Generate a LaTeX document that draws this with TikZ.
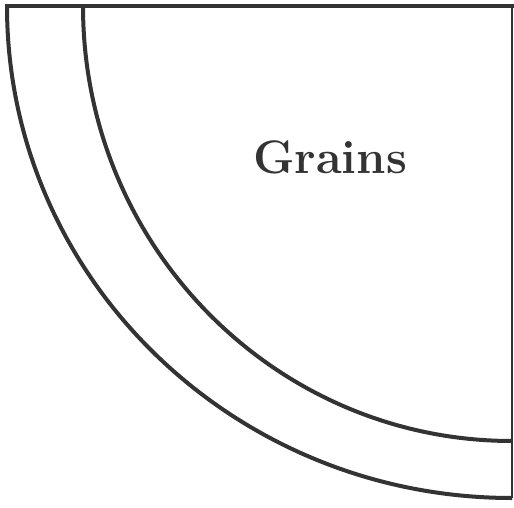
\documentclass[tikz,border=0pt]{standalone}
\usepackage{tikz}
\usetikzlibrary{positioning}
\definecolor{inkgray}{HTML}{333333}
\tikzset{rim/.style={draw=inkgray,line width=4pt}}

\begin{document}
\begin{tikzpicture}[x=1pt,y=-1pt]
\useasboundingbox (0,0) rectangle (514,508);
% outer and inner quarter rims
\draw[rim] (7,6) arc[start angle=180,end angle=90,x radius=505,y radius=492];
\draw[rim] (83,6) arc[start angle=180,end angle=90,x radius=429,y radius=435];
% frame edges
\draw[rim,line cap=rect] (7,6) -- (512,6);
\draw[draw=inkgray,line width=2.8pt] (512,6) -- (512,498);
\node[font=\fontsize{47}{52}\selectfont\bfseries,text=inkgray,anchor=center] (grains) at (330,157) {Grains};
\end{tikzpicture}
\end{document}
